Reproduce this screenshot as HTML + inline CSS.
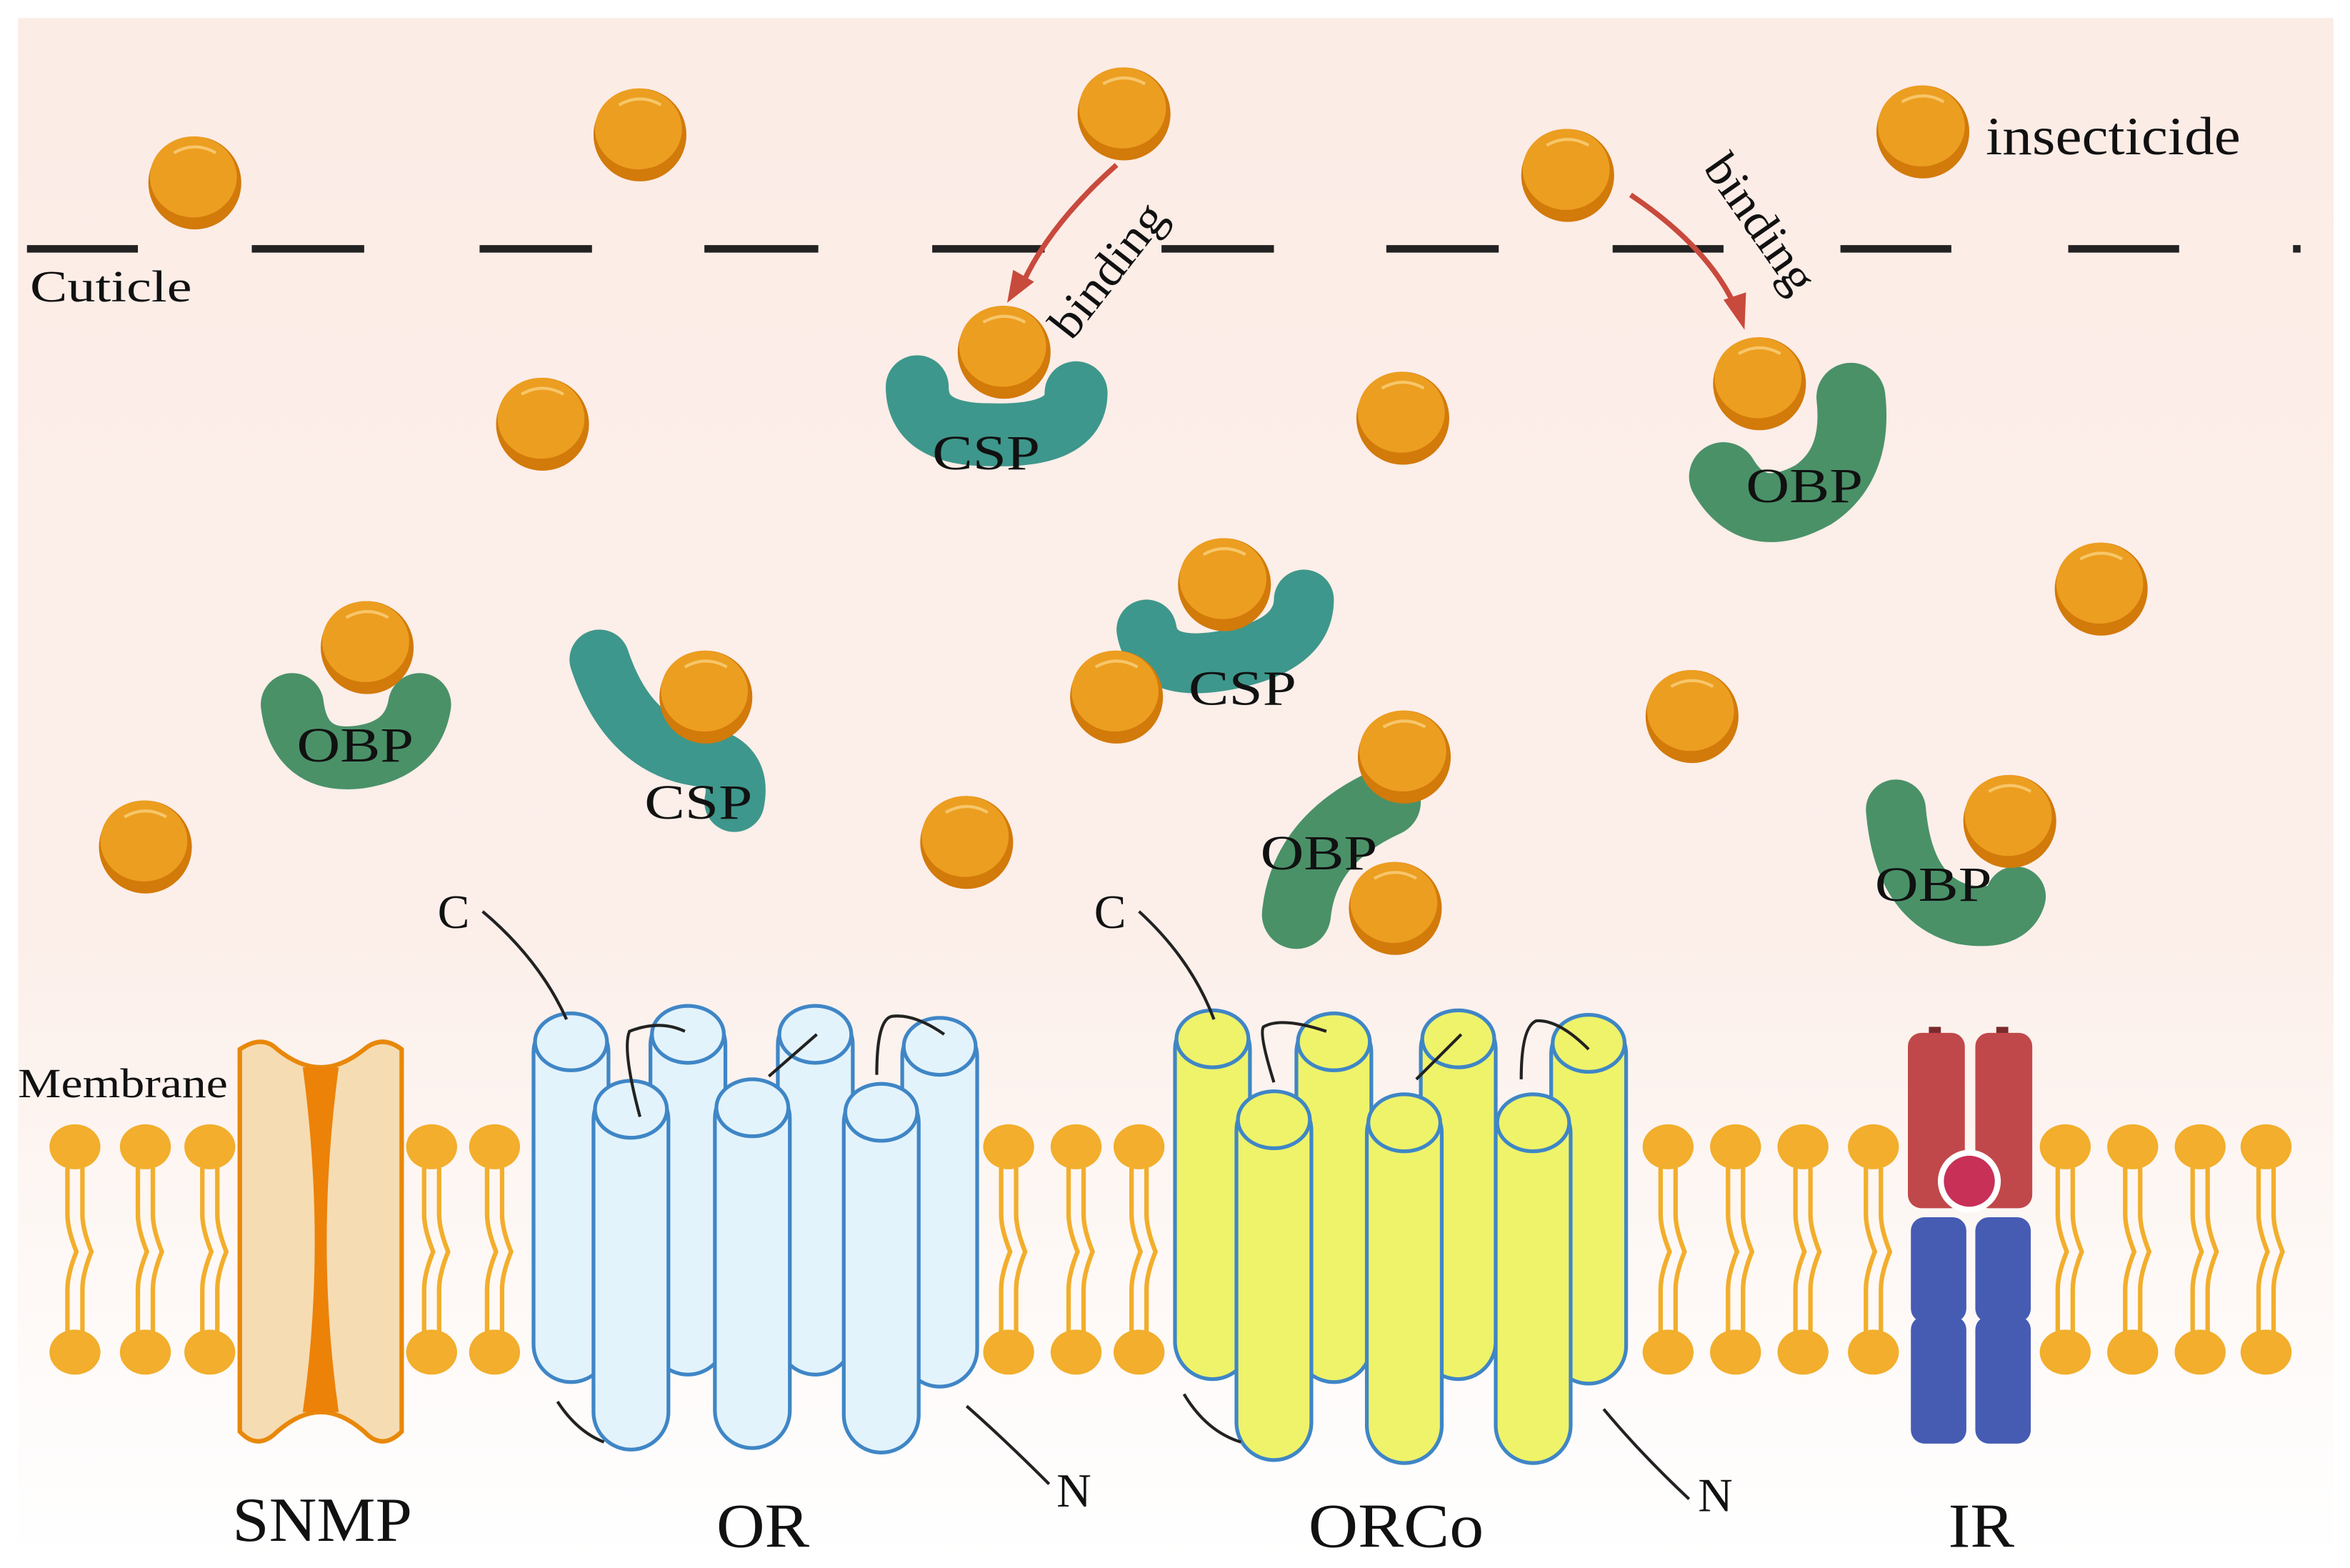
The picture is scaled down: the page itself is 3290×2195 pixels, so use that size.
<!DOCTYPE html>
<html><head><meta charset="utf-8"><style>html,body{margin:0;padding:0;background:#fff}svg{display:block}text{font-family:"Liberation Serif",serif;fill:#111}</style></head>
<body>
<svg width="3290" height="2195" viewBox="0 0 1568 1046" preserveAspectRatio="none" xmlns="http://www.w3.org/2000/svg">
<defs>
<linearGradient id="bg" x1="0" y1="0" x2="0" y2="1">
<stop offset="0" stop-color="#fcece6"/><stop offset="0.6" stop-color="#fcefea"/><stop offset="0.75" stop-color="#fdf6f3"/><stop offset="1" stop-color="#ffffff"/>
</linearGradient>
<g id="ball"><circle cx="0" cy="0" r="31" fill="#d27a0a"/><ellipse cx="-1" cy="-4" rx="29" ry="27" fill="#ec9e20"/><path d="M-14,-20 Q0,-28 14,-20" stroke="#f7c66a" stroke-width="2" fill="none"/></g>
<g id="lip"><ellipse cx="0" cy="0" rx="17" ry="15" fill="#f2ae2c"/><path d="M-5,14 L-5,45 Q-5,55 1,70 Q-5,85 -5,95 L-5,124 M5,14 L5,45 Q5,55 11,70 Q5,85 5,95 L5,124" stroke="#f2ae2c" stroke-width="3" fill="none"/><ellipse cx="0" cy="137" rx="17" ry="15" fill="#f2ae2c"/></g>
<g id="cylb"><rect x="-25" y="0" width="50" height="245" rx="25" fill="#e3f3fc" stroke="#3f86c6" stroke-width="2.5"/><ellipse cx="0" cy="18" rx="24" ry="19" fill="#e3f3fc" stroke="#3f86c6" stroke-width="2.5"/></g>
<g id="cyly"><rect x="-25" y="0" width="50" height="245" rx="25" fill="#eef36a" stroke="#3f86c6" stroke-width="2.5"/><ellipse cx="0" cy="18" rx="24" ry="19" fill="#eef36a" stroke="#3f86c6" stroke-width="2.5"/></g>
</defs>
<rect width="1568" height="1046" fill="#fff"/>
<rect x="12" y="12" width="1545" height="1030" fill="url(#bg)"/>
<g stroke="#222" stroke-width="5">
<line x1="18" y1="166" x2="92" y2="166"/><line x1="168" y1="166" x2="243" y2="166"/><line x1="320" y1="166" x2="395" y2="166"/><line x1="470" y1="166" x2="546" y2="166"/><line x1="622" y1="166" x2="697" y2="166"/><line x1="775" y1="166" x2="850" y2="166"/><line x1="925" y1="166" x2="1000" y2="166"/><line x1="1076" y1="166" x2="1150" y2="166"/><line x1="1228" y1="166" x2="1302" y2="166"/><line x1="1380" y1="166" x2="1454" y2="166"/><line x1="1530" y1="166" x2="1535" y2="166"/>
</g>
<text x="20" y="201" font-size="30" textLength="108" lengthAdjust="spacingAndGlyphs">Cuticle</text>
<text x="1325" y="103" font-size="36" textLength="170" lengthAdjust="spacingAndGlyphs">insecticide</text>
<g fill="none" stroke-linecap="round">
<path d="M612,258 Q612,290 660,290 Q718,292 718,262" stroke="#3e978c" stroke-width="42"/>
<path d="M1150,318 Q1170,352 1210,330 Q1240,310 1235,265" stroke="#4a9168" stroke-width="46"/>
<path d="M195,470 Q200,510 240,505 Q275,500 280,470" stroke="#4a9168" stroke-width="42"/>
<path d="M400,440 Q420,500 470,505 Q495,510 490,535" stroke="#3e978c" stroke-width="40"/>
<path d="M765,420 Q770,450 820,440 Q870,430 870,400" stroke="#3e978c" stroke-width="40"/>
<path d="M925,535 Q870,560 865,610" stroke="#4a9168" stroke-width="46"/>
<path d="M1265,540 Q1270,600 1310,610 Q1340,615 1345,598" stroke="#4a9168" stroke-width="40"/>
</g>
<path d="M745,110 Q700,150 682,190" stroke="#c84a3c" stroke-width="3.5" fill="none"/>
<polygon points="672,202 676,180 690,188" fill="#c84a3c"/>
<path d="M1088,130 Q1140,165 1158,205" stroke="#c84a3c" stroke-width="3.5" fill="none"/>
<polygon points="1164,220 1150,200 1165,195" fill="#c84a3c"/>
<text font-size="32" transform="translate(715,228) rotate(-52)" textLength="105" lengthAdjust="spacingAndGlyphs">binding</text>
<text font-size="32" transform="translate(1136,112) rotate(55)" textLength="105" lengthAdjust="spacingAndGlyphs">binding</text>
<use href="#ball" x="130" y="122"/><use href="#ball" x="427" y="90"/><use href="#ball" x="750" y="76"/><use href="#ball" x="1046" y="117"/><use href="#ball" x="1283" y="88"/>
<use href="#ball" x="362" y="283"/><use href="#ball" x="936" y="279"/><use href="#ball" x="1402" y="393"/><use href="#ball" x="245" y="432"/><use href="#ball" x="471" y="465"/>
<use href="#ball" x="817" y="390"/><use href="#ball" x="745" y="465"/><use href="#ball" x="1129" y="478"/><use href="#ball" x="937" y="505"/><use href="#ball" x="97" y="565"/>
<use href="#ball" x="645" y="562"/><use href="#ball" x="931" y="606"/><use href="#ball" x="1341" y="548"/><use href="#ball" x="670" y="235"/><use href="#ball" x="1174" y="256"/>
<text x="622" y="313" font-size="33" textLength="72" lengthAdjust="spacingAndGlyphs">CSP</text>
<text x="1165" y="335" font-size="33" textLength="78" lengthAdjust="spacingAndGlyphs">OBP</text>
<text x="198" y="508" font-size="33" textLength="78" lengthAdjust="spacingAndGlyphs">OBP</text>
<text x="430" y="546" font-size="33" textLength="72" lengthAdjust="spacingAndGlyphs">CSP</text>
<text x="793" y="470" font-size="33" textLength="72" lengthAdjust="spacingAndGlyphs">CSP</text>
<text x="841" y="580" font-size="33" textLength="78" lengthAdjust="spacingAndGlyphs">OBP</text>
<text x="1251" y="601" font-size="33" textLength="78" lengthAdjust="spacingAndGlyphs">OBP</text>
<text x="12" y="732" font-size="28" textLength="140" lengthAdjust="spacingAndGlyphs">Membrane</text>
<g>
<use href="#lip" x="50" y="765"/><use href="#lip" x="97" y="765"/><use href="#lip" x="140" y="765"/><use href="#lip" x="288" y="765"/><use href="#lip" x="330" y="765"/>
<use href="#lip" x="673" y="765"/><use href="#lip" x="718" y="765"/><use href="#lip" x="760" y="765"/>
<use href="#lip" x="1113" y="765"/><use href="#lip" x="1158" y="765"/><use href="#lip" x="1203" y="765"/><use href="#lip" x="1250" y="765"/>
<use href="#lip" x="1378" y="765"/><use href="#lip" x="1423" y="765"/><use href="#lip" x="1468" y="765"/><use href="#lip" x="1512" y="765"/>
</g>
<path d="M160,700 Q175,690 185,700 Q200,712 214,712 Q228,712 243,700 Q255,690 268,700 L268,955 Q255,968 243,955 Q228,942 214,942 Q200,942 185,955 Q172,968 160,955 Z" fill="#f6dcb3" stroke="#e8880a" stroke-width="3"/>
<path d="M202,712 L226,712 Q210,830 226,942 L202,942 Q218,830 202,712 Z" fill="#ec8208"/>
<use href="#cylb" x="381" y="677"/><use href="#cylb" x="459" y="672"/><use href="#cylb" x="544" y="672"/><use href="#cylb" x="627" y="680"/>
<use href="#cylb" x="421" y="722"/><use href="#cylb" x="502" y="721"/><use href="#cylb" x="588" y="724"/>
<use href="#cyly" x="809" y="675"/><use href="#cyly" x="890" y="677"/><use href="#cyly" x="973" y="675"/><use href="#cyly" x="1060" y="678"/>
<use href="#cyly" x="850" y="729"/><use href="#cyly" x="937" y="731"/><use href="#cyly" x="1023" y="731"/>
<g stroke="#222" stroke-width="2" fill="none">
<path d="M322,608 Q360,640 378,680"/><path d="M427,745 Q415,700 420,688 Q440,680 457,688"/><path d="M513,718 L545,690"/><path d="M585,717 Q585,680 595,678 Q610,676 630,690"/>
<path d="M372,935 Q385,955 403,962"/><path d="M645,938 Q670,960 700,990"/>
<path d="M760,608 Q795,640 810,680"/><path d="M850,722 Q840,690 843,685 Q855,678 885,688"/><path d="M945,720 Q965,700 975,690"/><path d="M1015,720 Q1015,685 1025,681 Q1040,680 1060,700"/>
<path d="M790,930 Q805,955 828,962"/><path d="M1070,940 Q1095,970 1127,1000"/>
</g>
<text x="292" y="619" font-size="32">C</text><text x="730" y="619" font-size="32">C</text>
<text x="705" y="1005" font-size="32">N</text><text x="1133" y="1008" font-size="32">N</text>
<rect x="1287" y="685" width="8" height="8" fill="#7a2a2a"/><rect x="1332" y="685" width="8" height="8" fill="#7a2a2a"/>
<rect x="1273" y="689" width="38" height="117" rx="9" fill="#c0484a"/><rect x="1318" y="689" width="38" height="117" rx="9" fill="#c0484a"/>
<rect x="1275" y="812" width="37" height="70" rx="9" fill="#465cb3"/><rect x="1318" y="812" width="37" height="70" rx="9" fill="#465cb3"/>
<rect x="1275" y="878" width="37" height="85" rx="9" fill="#465cb3"/><rect x="1318" y="878" width="37" height="85" rx="9" fill="#465cb3"/>
<circle cx="1314" cy="788" r="21" fill="#fff"/><circle cx="1314" cy="788" r="17" fill="#c83058"/>
<text x="155" y="1028" font-size="42" textLength="120" lengthAdjust="spacingAndGlyphs">SNMP</text>
<text x="478" y="1032" font-size="42" textLength="62" lengthAdjust="spacingAndGlyphs">OR</text>
<text x="873" y="1032" font-size="42" textLength="117" lengthAdjust="spacingAndGlyphs">ORCo</text>
<text x="1300" y="1032" font-size="42" textLength="44" lengthAdjust="spacingAndGlyphs">IR</text>
</svg>
</body></html>
